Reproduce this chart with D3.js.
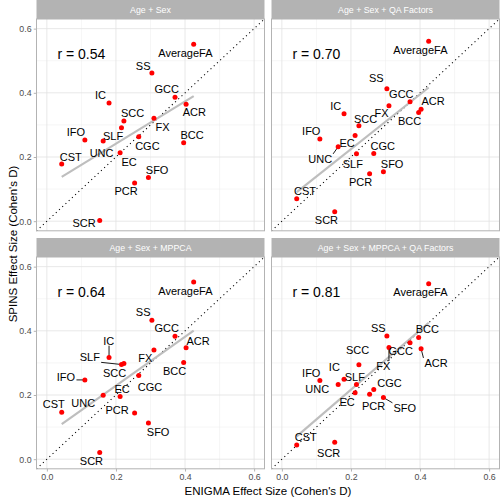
<!DOCTYPE html>
<html>
<head>
<meta charset="utf-8">
<script src="https://cdn.jsdelivr.net/npm/d3@7"></script>
<style>
  html, body { margin: 0; padding: 0; background: #fff; }
  svg { display: block; }
  text { font-family: "Liberation Sans", Arial, Helvetica, sans-serif; }
</style>
</head>
<body>
<svg id="chart" width="500" height="499"></svg>
<script>
// ---------------- data ----------------
const panelTitles = ["Age + Sex", "Age + Sex + QA Factors", "Age + Sex + MPPCA", "Age + Sex + MPPCA + QA Factors"];
const rLabels = ["r = 0.54", "r = 0.70", "r = 0.64", "r = 0.81"];
const tracts = ["AverageFA","SS","GCC","ACR","IC","FX","SCC","SLF","IFO","UNC","CGC","BCC","EC","CST","SFO","PCR","SCR"];
const enigmaD = [0.425,0.304,0.371,0.403,0.180,0.310,0.223,0.216,0.110,0.163,0.266,0.396,0.212,0.043,0.294,0.254,0.153];
const spinsAgeSex      = [0.551,0.462,0.386,0.364,0.368,0.321,0.312,0.291,0.253,0.250,0.263,0.244,0.213,0.178,0.136,0.119,0.002];
const spinsQA          = [0.561,0.413,0.372,0.349,0.335,0.360,0.297,0.210,0.256,0.232,0.211,0.339,0.267,0.070,0.154,0.148,0.029];
const spinsMPPCA       = [0.552,0.433,0.383,0.347,0.317,0.340,0.298,0.295,0.247,0.199,0.261,0.301,0.195,0.146,0.113,0.144,0.021];
const spinsMPPCAQA     = [0.547,0.384,0.363,0.344,0.249,0.348,0.294,0.233,0.245,0.233,0.217,0.379,0.207,0.044,0.192,0.202,0.053];
const seriesY = [spinsAgeSex, spinsQA, spinsMPPCA, spinsMPPCAQA];
const xTicks = [0, 0.2, 0.4, 0.6];
const yTicks = [0, 0.2, 0.4, 0.6];
const xTitle = "ENIGMA Effect Size (Cohen's D)";
const yTitle = "SPINS Effect Size (Cohen's D)";

// ---------------- layout (label repel offsets in px, per panel, tract order) ----------------
const labelOffsets = [
  [[-8.3,8.7],[-8.7,-7],[-8.4,-8],[8.3,8],[-8.6,-7.7],[8.6,9],[8.7,-7.4],[-8.4,8],[-9,-7.4],[-1.6,12],[8.6,9],[8.4,-7.4],[9,9],[9,-7.3],[8.7,-7.3],[-8.6,8.3],[-15.7,3]],
  [[-8.3,9],[-10.6,-10],[-8.7,-7.4],[12,-8],[-8.3,-8],[-7.3,7.4],[6.7,-7],[-3.7,10.3],[-8.6,-7.6],[-18,12.3],[9,-7.6],[-9,8.4],[-8,8],[8.3,-7.7],[8.7,-7.7],[-9,8.7],[-8.3,8.3]],
  [[-8.3,9.3],[-8.7,-7.7],[-8.4,-7.7],[12,-7],[-0.3,-16.6],[-8.7,8.3],[-9.3,9.7],[-31.7,-7],[-19,-2.4],[-20,7.7],[11.3,11.4],[-9,8.4],[2,-7],[-8,-8],[9.7,9],[-17.6,-3],[-8.3,8.4]],
  [[-8.3,9],[-8.6,-8],[-9.3,8.4],[15,14.3],[-9.7,-11.7],[-5.6,18.7],[-1.3,-14.7],[-1.7,-7.6],[-8.6,-7.6],[-21,4.7],[15.7,-6],[8.7,-8.3],[-8,9],[9,-7.7],[21.3,10.4],[4,11.7],[-6,10.7]]
];
const segmentLabels = [[], ["UNC"], ["IC","SLF","IFO"], ["FX","ACR","SFO"]];

const panelW = 228, panelH = 211.8, stripH = 19;
const colX = [36.5, 271.5];
const rowY = [19, 257];
const grey70 = "#b3b3b3";

const svg = d3.select("#chart");
svg.append("rect").attr("width", 500).attr("height", 499).attr("fill", "#fff");

const x = d3.scaleLinear().domain([-0.03, 0.63]).range([0, panelW]);
const y = d3.scaleLinear().domain([-0.03, 0.63]).range([panelH, 0]);

function linreg(xs, ys) {
  const n = xs.length;
  const mx = d3.mean(xs), my = d3.mean(ys);
  let sxy = 0, sxx = 0;
  for (let i = 0; i < n; i++) { sxy += (xs[i]-mx)*(ys[i]-my); sxx += (xs[i]-mx)**2; }
  const b = sxy / sxx;
  return { b, a: my - b*mx };
}

seriesY.forEach((ys, p) => {
  const col = p % 2, row = Math.floor(p / 2);
  const g = svg.append("g").attr("transform", `translate(${colX[col]},${rowY[row]})`);

  // strip
  g.append("rect").attr("x", 0).attr("y", -stripH).attr("width", panelW).attr("height", stripH).attr("fill", grey70);
  g.append("text").attr("x", panelW/2).attr("y", -stripH/2).attr("dy", "0.35em")
    .attr("text-anchor", "middle").attr("fill", "#fff").attr("font-size", "8.8px").text(panelTitles[p]);

  // grid
  const minor = [0.1, 0.3, 0.5];
  g.selectAll(".gxm").data(minor).enter().append("line")
    .attr("x1", d => x(d)).attr("x2", d => x(d)).attr("y1", 0).attr("y2", panelH)
    .attr("stroke", "#ececec").attr("stroke-width", 0.5);
  g.selectAll(".gym").data(minor).enter().append("line")
    .attr("y1", d => y(d)).attr("y2", d => y(d)).attr("x1", 0).attr("x2", panelW)
    .attr("stroke", "#ececec").attr("stroke-width", 0.5);
  g.selectAll(".gx").data(xTicks).enter().append("line")
    .attr("x1", d => x(d)).attr("x2", d => x(d)).attr("y1", 0).attr("y2", panelH)
    .attr("stroke", "#e2e2e2").attr("stroke-width", 0.8);
  g.selectAll(".gy").data(yTicks).enter().append("line")
    .attr("y1", d => y(d)).attr("y2", d => y(d)).attr("x1", 0).attr("x2", panelW)
    .attr("stroke", "#e2e2e2").attr("stroke-width", 0.8);

  // diagonal y = x
  g.append("line").attr("x1", x(-0.03)).attr("y1", y(-0.03)).attr("x2", x(0.63)).attr("y2", y(0.63))
    .attr("stroke", "#000").attr("stroke-width", 1.1).attr("stroke-dasharray", "1.1,3.3");

  // regression line
  const fit = linreg(enigmaD, ys);
  const x0 = d3.min(enigmaD), x1 = d3.max(enigmaD);
  g.append("line").attr("x1", x(x0)).attr("y1", y(fit.a + fit.b*x0))
    .attr("x2", x(x1)).attr("y2", y(fit.a + fit.b*x1))
    .attr("stroke", "#bebebe").attr("stroke-width", 2.2);

  // labels (measure for segments)
  const labels = g.append("g");
  const items = tracts.map((t, i) => ({ t, px: x(enigmaD[i]), py: y(ys[i]), dx: labelOffsets[p][i][0], dy: labelOffsets[p][i][1] }));
  const texts = labels.selectAll("text").data(items).enter().append("text")
    .attr("x", d => d.px + d.dx).attr("y", d => d.py + d.dy).attr("dy", "0.35em")
    .attr("text-anchor", "middle").attr("font-size", "11px").attr("fill", "#000").text(d => d.t);

  // segments
  const segG = g.insert("g", () => labels.node());
  texts.each(function(d) {
    if (!segmentLabels[p].includes(d.t)) return;
    const bb = this.getBBox();
    const pad = 1;
    const cx = Math.max(bb.x - pad, Math.min(d.px, bb.x + bb.width + pad));
    const cy = Math.max(bb.y + 1, Math.min(d.py, bb.y + bb.height - 1));
    segG.append("line").attr("x1", d.px).attr("y1", d.py).attr("x2", cx).attr("y2", cy)
      .attr("stroke", "#000").attr("stroke-width", 0.9);
  });

  // points
  g.insert("g", () => labels.node()).selectAll("circle").data(items).enter().append("circle")
    .attr("cx", d => d.px).attr("cy", d => d.py).attr("r", 2.5).attr("fill", "#ff0000");

  // r annotation
  g.append("text").attr("x", x(0.1)).attr("y", y(0.52)).attr("dy", "0.35em")
    .attr("text-anchor", "middle").attr("font-size", "14px").attr("fill", "#000").text(rLabels[p]);

  // border
  g.append("rect").attr("x", 0).attr("y", 0).attr("width", panelW).attr("height", panelH)
    .attr("fill", "none").attr("stroke", grey70).attr("stroke-width", 1);

  // axes
  if (col === 0) {
    const ay = g.append("g").call(d3.axisLeft(y).tickValues(yTicks).tickFormat(d3.format(".1f")).tickSize(2.75).tickPadding(2.2));
    ay.select(".domain").remove();
    ay.selectAll("line").attr("stroke", grey70);
    ay.selectAll("text").attr("fill", "#4d4d4d").attr("font-size", "8.8px").attr("font-family", "Liberation Sans, Arial, sans-serif");
  }
  if (row === 1) {
    const ax = g.append("g").attr("transform", `translate(0,${panelH})`)
      .call(d3.axisBottom(x).tickValues(xTicks).tickFormat(d3.format(".1f")).tickSize(2.75).tickPadding(2.2));
    ax.select(".domain").remove();
    ax.selectAll("line").attr("stroke", grey70);
    ax.selectAll("text").attr("fill", "#4d4d4d").attr("font-size", "8.8px").attr("font-family", "Liberation Sans, Arial, sans-serif");
  }
});

// axis titles
svg.append("text").attr("x", (colX[0] + colX[1] + panelW)/2).attr("y", 495)
  .attr("text-anchor", "middle").attr("font-size", "11.5px").attr("fill", "#000").text(xTitle);
svg.append("text").attr("transform", "translate(16.5,244) rotate(-90)")
  .attr("text-anchor", "middle").attr("font-size", "11.5px").attr("fill", "#000").text(yTitle);
</script>
</body>
</html>
